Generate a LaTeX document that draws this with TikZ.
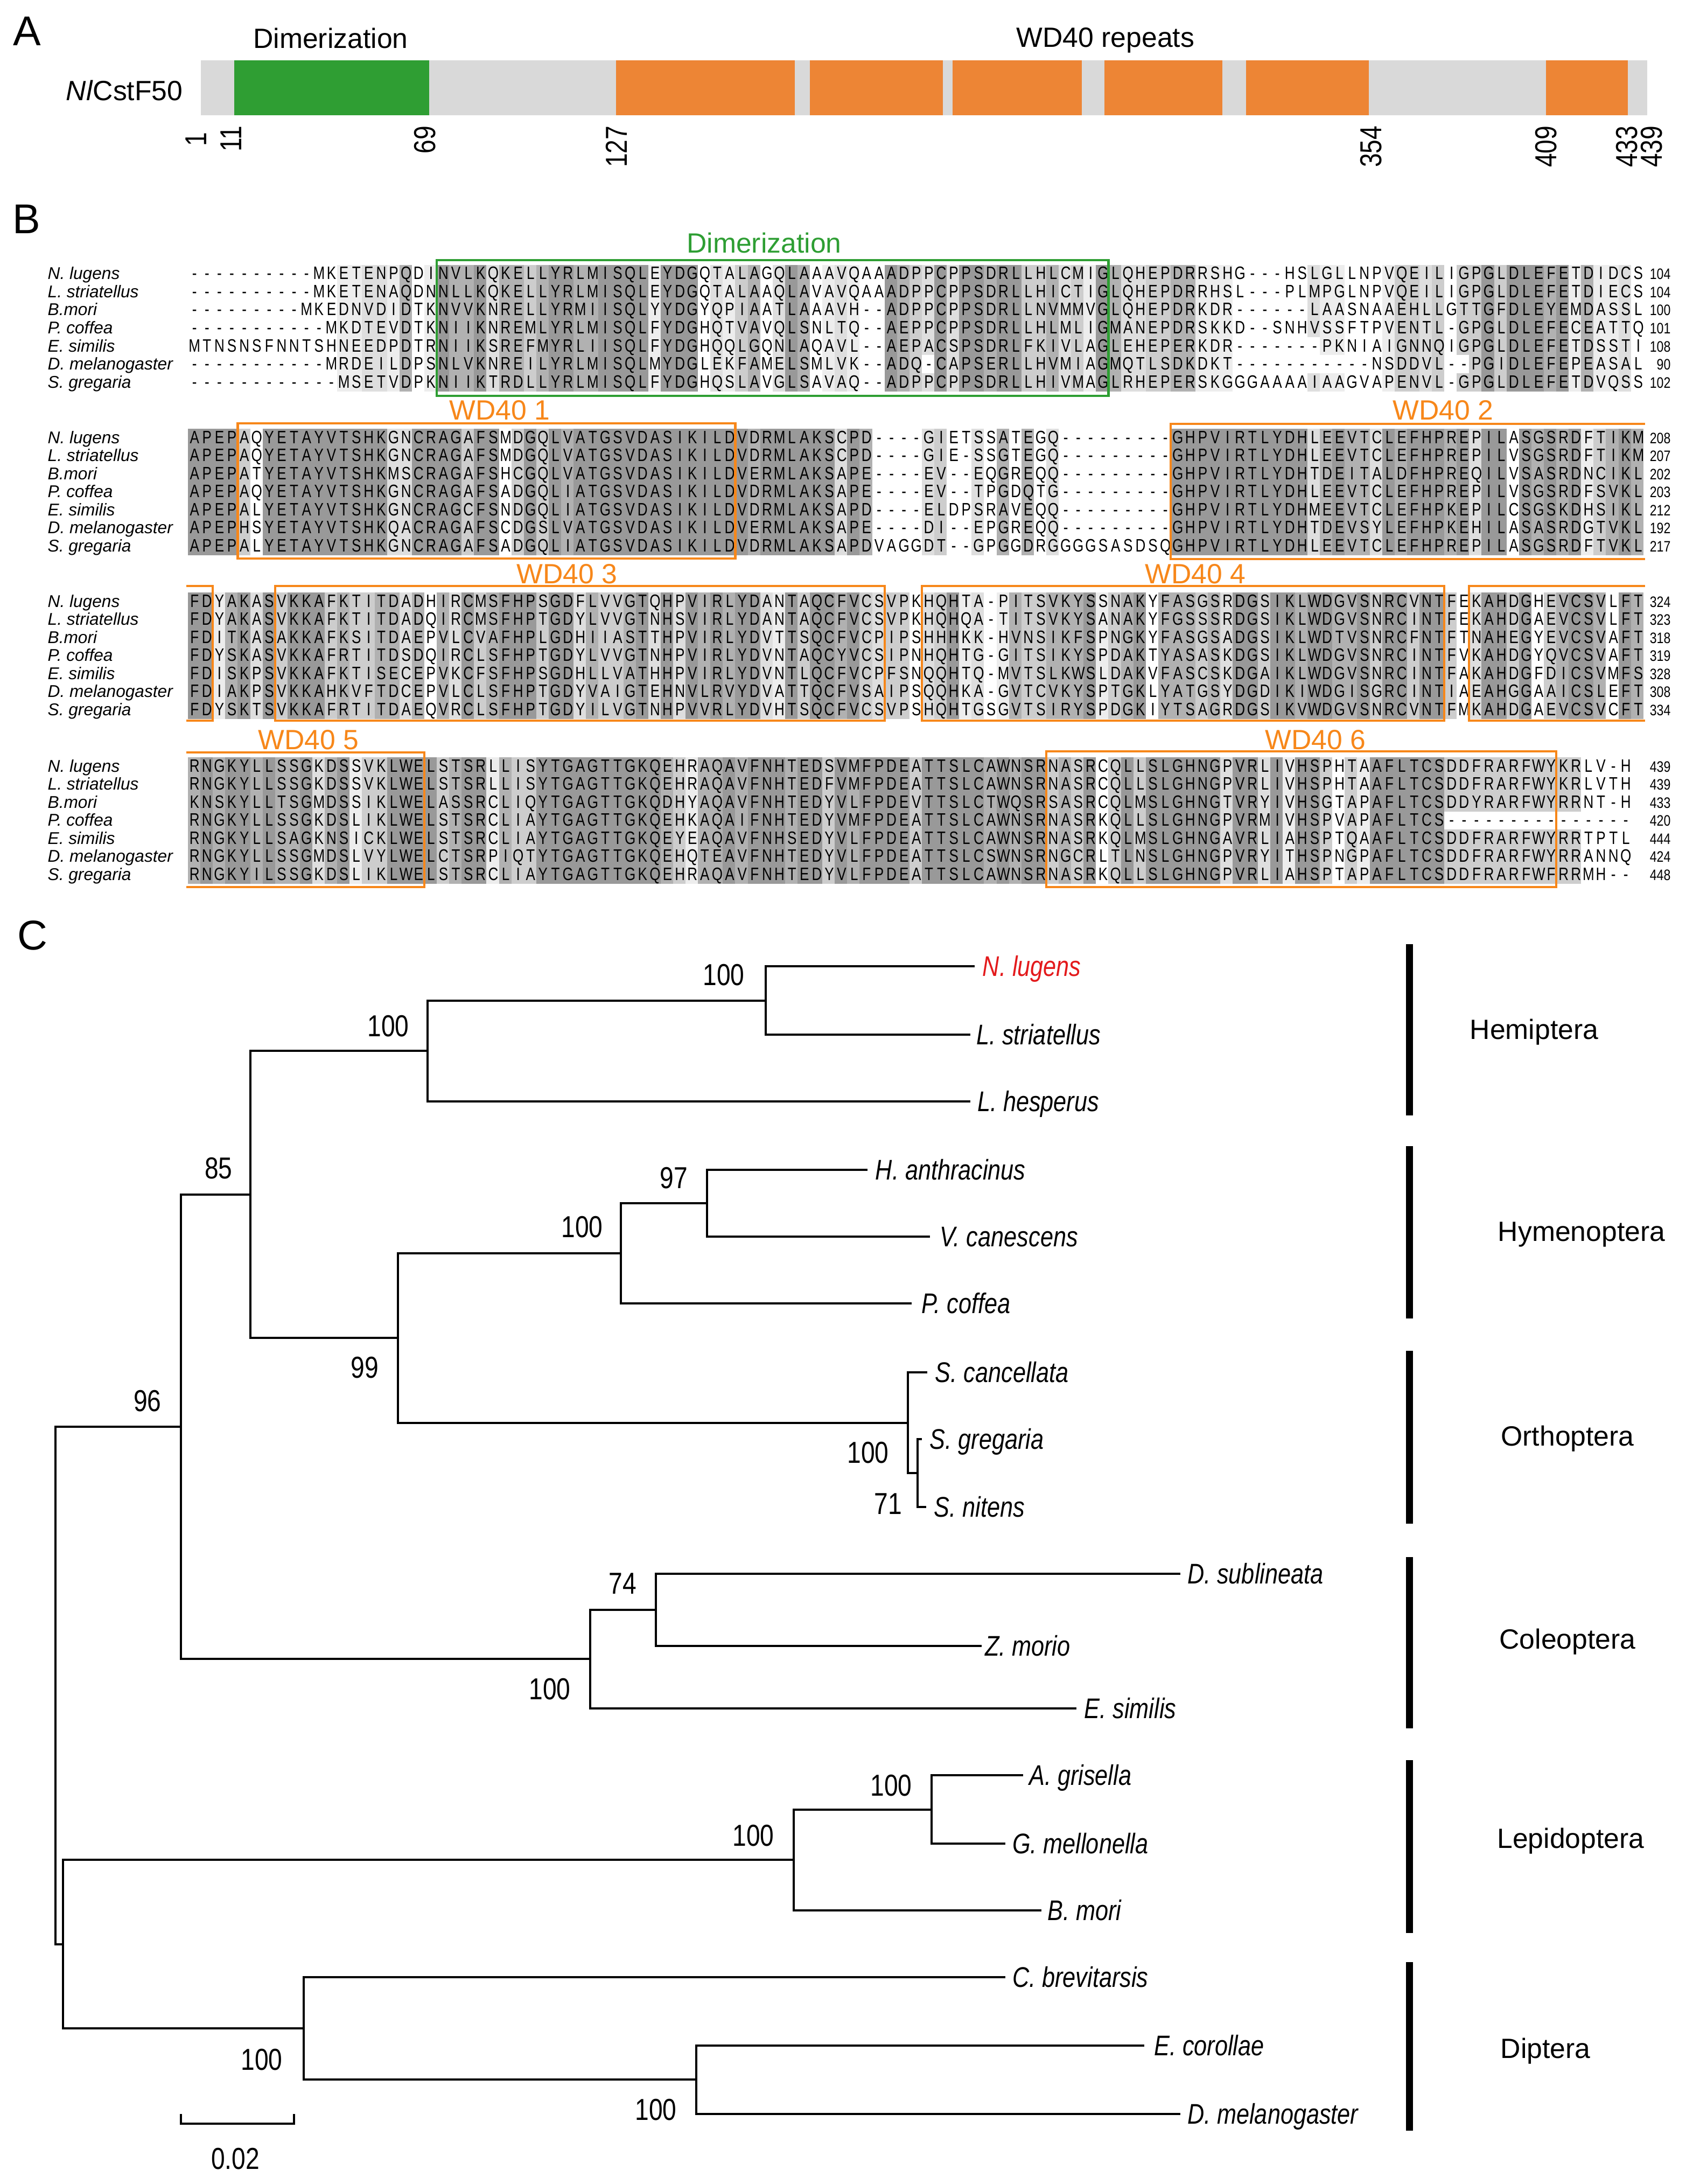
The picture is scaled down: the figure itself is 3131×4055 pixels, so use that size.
\documentclass[tikz,border=0pt]{standalone}
\usepackage{fontspec}
\usepackage{tikz}
\usetikzlibrary{positioning}
\setmainfont{Liberation Sans}
\newfontfamily\narrowfont[FakeStretch=0.82]{Liberation Sans}
\newfontfamily\seqfont[FakeStretch=0.78]{Liberation Sans}

\definecolor{domgreen}{HTML}{2F9E33}
\definecolor{domorange}{HTML}{ED8535}
\definecolor{boxgreen}{HTML}{2E9E33}
\definecolor{boxorange}{HTML}{F7871A}
\definecolor{bargray}{HTML}{D9D9D9}
\definecolor{leafred}{HTML}{E31A1C}
\definecolor{shade1}{HTML}{999999}
\definecolor{shade2}{HTML}{B1B1B1}
\definecolor{shade3}{HTML}{CDCDCD}
\definecolor{shade4}{HTML}{DEDEDE}
\definecolor{shade5}{HTML}{EDEDED}

\tikzset{
  seqrow/.style={anchor=base west, inner sep=0pt, font=\seqfont\fontsize{9.5}{11}\selectfont},
  seqnum/.style={anchor=base east, inner sep=0pt, font=\narrowfont\fontsize{8}{10}\selectfont},
  seqname/.style={anchor=base west, inner sep=0pt, font=\itshape\fontsize{9}{11}\selectfont},
  domlabel/.style={anchor=base, inner sep=0pt, font=\fontsize{14.7}{17}\selectfont},
  resnum/.style={rotate=90, anchor=east, inner sep=0pt, font=\narrowfont\fontsize{16}{19}\selectfont},
  panel/.style={anchor=base, inner sep=0pt, font=\fontsize{22}{26}\selectfont},
  greenbox/.style={draw=boxgreen, line width=1.2pt},
  orangebox/.style={draw=boxorange, line width=1.2pt},
  branch/.style={line width=1.2pt},
  leaf/.style={anchor=west, inner sep=0pt, text height=10.7pt, text depth=0pt, font=\narrowfont\itshape\fontsize{15}{18}\selectfont},
  boot/.style={inner sep=0pt, font=\narrowfont\fontsize{16}{19}\selectfont},
  order/.style={inner sep=0pt, text height=10.5pt, text depth=0pt, font=\fontsize{14.7}{17}\selectfont},
  orderbar/.style={line width=3.7pt},
}

% alignment grid
\newcommand\alncw{23.1}
\newcommand\alnxo{349}
\newcommand\alnpitch{33.5}
\def\alny{0}
\newcommand\alncell[3]{\fill[shade#3] ({\alnxo+(#1-1)*\alncw},{\alny+(#2-1)*\alnpitch-16}) rectangle +(\alncw,\alnpitch);}
\newcommand\alntext[2]{\node[seqrow] (s\alny-#1) at (\alnxo,{\alny+(#1-1)*\alnpitch+11}) {\alnstr{#2}};}
\newcommand\alnnum[2]{\node[seqnum] (n\alny-#1) at (3103,{\alny+(#1-1)*\alnpitch+11}) {#2};}
\newcommand\alnname[2]{\node[seqname] (m\alny-#1) at (88,{\alny+(#1-1)*\alnpitch+11}) {#2};}
\newcommand\alnnames{%
  \alnname{1}{N. lugens}\alnname{2}{L. striatellus}\alnname{3}{B.mori}%
  \alnname{4}{P. coffea}\alnname{5}{E. similis}\alnname{6}{D. melanogaster}%
  \alnname{7}{S. gregaria}}

\ExplSyntaxOn
\seq_new:N \l__aln_rows_seq
\seq_new:N \l__aln_nums_seq
\int_new:N \l__aln_len_int
\int_new:N \l__aln_id_int
\int_new:N \l__aln_sim_int
\int_new:N \l__aln_cnt_int
\int_new:N \l__aln_scnt_int
\int_new:N \l__aln_lev_int
\tl_const:Nn \c__aln_gap_tl { - }
\int_step_inline:nn { 7 }
  {
    \str_new:c { l__aln_r #1 _str }
    \tl_new:c { l__aln_c #1 _tl }
    \tl_new:c { l__aln_g #1 _tl }
  }
\cs_new:Npn \__aln_grp:n #1
  {
    \str_case:nnF {#1}
      {
        {I}{a} {L}{a} {V}{a} {M}{a}
        {F}{b} {Y}{b} {W}{b}
        {K}{c} {R}{c} {H}{c}
        {D}{d} {E}{d} {N}{d} {Q}{d}
        {S}{e} {T}{e} {A}{e} {G}{e}
        {C}{f} {P}{h}
      }
      {z}
  }
\cs_generate_variant:Nn \__aln_grp:n { v }
\cs_generate_variant:Nn \str_item:Nn { c }
\cs_generate_variant:Nn \str_count:N { c }
\cs_new_protected:Npn \alnstr #1
  { \str_map_inline:nn {#1} { \makebox[0.231cm][c]{##1} } }
\cs_new_protected:Npn \__aln_column:n #1
  {
    \int_step_inline:nn { 7 }
      {
        \tl_set:cx { l__aln_c ##1 _tl } { \str_item:cn { l__aln_r ##1 _str } {#1} }
        \tl_set:cx { l__aln_g ##1 _tl } { \__aln_grp:v { l__aln_c ##1 _tl } }
      }
    \int_zero:N \l__aln_id_int
    \int_zero:N \l__aln_sim_int
    \int_step_inline:nn { 7 }
      {
        \tl_if_eq:cNF { l__aln_c ##1 _tl } \c__aln_gap_tl
          {
            \int_zero:N \l__aln_cnt_int
            \int_zero:N \l__aln_scnt_int
            \int_step_inline:nn { 7 }
              {
                \tl_if_eq:ccT { l__aln_c ##1 _tl } { l__aln_c ####1 _tl }
                  { \int_incr:N \l__aln_cnt_int }
                \tl_if_eq:ccT { l__aln_g ##1 _tl } { l__aln_g ####1 _tl }
                  { \int_incr:N \l__aln_scnt_int }
              }
            \int_set:Nn \l__aln_id_int { \int_max:nn { \l__aln_id_int } { \l__aln_cnt_int } }
            \int_set:Nn \l__aln_sim_int { \int_max:nn { \l__aln_sim_int } { \l__aln_scnt_int } }
          }
      }
    \int_set:Nn \l__aln_lev_int
      {
        \int_compare:nNnTF { \l__aln_id_int } = { 7 } { 1 }
          {
            \int_compare:nNnTF { \l__aln_sim_int } > { 3 }
              { 9 - \l__aln_sim_int } { 0 }
          }
      }
    \int_compare:nNnT { \l__aln_lev_int } > { 0 }
      {
        \int_step_inline:nn { 7 }
          {
            \tl_if_eq:cNF { l__aln_c ##1 _tl } \c__aln_gap_tl
              { \use:x { \exp_not:N \alncell {#1} {##1} { \int_use:N \l__aln_lev_int } } }
          }
      }
  }
\NewDocumentCommand \alnblock { m m m }
  {
    \tl_set:Nn \alny {#1}
    \seq_set_from_clist:Nn \l__aln_rows_seq {#2}
    \seq_set_from_clist:Nn \l__aln_nums_seq {#3}
    \seq_map_indexed_inline:Nn \l__aln_rows_seq
      { \str_set:cn { l__aln_r ##1 _str } {##2} }
    \int_set:Nn \l__aln_len_int { \str_count:c { l__aln_r1_str } }
    \int_step_function:nN { \l__aln_len_int } \__aln_column:n
    \seq_map_indexed_inline:Nn \l__aln_rows_seq { \alntext {##1} {##2} }
    \seq_map_indexed_inline:Nn \l__aln_nums_seq { \alnnum {##1} {##2} }
    \alnnames
  }
\ExplSyntaxOff

\begin{document}
\begin{tikzpicture}[x=0.01cm, y=-0.01cm]
\fill[white] (0,0) rectangle (3131,4055);
\useasboundingbox (0,0) rectangle (3131,4055);

% A: domain map
\node[panel] (pA) at (50,85) {A};
\node[domlabel] (dimA) at (614,90) {Dimerization};
\node[domlabel] (wdA) at (2053,88) {WD40 repeats};
\node[domlabel, anchor=base east] (prot) at (340,187) {\textit{Nl}CstF50};
\fill[bargray] (373,112) rectangle (3059,214);
\fill[domgreen] (435,112) rectangle (797,214);
\fill[domorange] (1144,112) rectangle (1476,214);
\fill[domorange] (1504,112) rectangle (1751,214);
\fill[domorange] (1769,112) rectangle (2009,214);
\fill[domorange] (2051,112) rectangle (2270,214);
\fill[domorange] (2314,112) rectangle (2542,214);
\fill[domorange] (2871,112) rectangle (3023,214);
\node[resnum] (r1) at (364,245) {1};
\node[resnum] (r11) at (429,233) {11};
\node[resnum] (r69) at (789,233) {69};
\node[resnum] (r127) at (1145,233) {127};
\node[resnum] (r354) at (2546,233) {354};
\node[resnum] (r409) at (2871,233) {409};
\node[resnum] (r433) at (3021,233) {433};
\node[resnum] (r439) at (3067,233) {439};

% B: alignment
\node[panel] (pB) at (49,434) {B};
\alnblock{508}{
----------MKETENPQDINVLKQKELLYRLMISQLEYDGQTALAGQLAAAVQAAADPPCPPSDRLLHLCMIGLQHEPDRRSHG---HSLGLLNPVQEILIGPGLDLEFETDIDCS,
----------MKETENAQDNNLLKQKELLYRLMISQLEYDGQTALAAQLAVAVQAAADPPCPPSDRLLHICTIGLQHEPDRRHSL---PLMPGLNPVQEILIGPGLDLEFETDIECS,
---------MKEDNVDIDTKNVVKNRELLYRMIISQLYYDGYQPIAATLAAAVH--ADPPCPPSDRLLNVMMVGLQHEPDRKDR------LAASNAAEHLLGTTGFDLEYEMDASSL,
-----------MKDTEVDTKNIIKNREMLYRLMISQLFYDGHQTVAVQLSNLTQ--AEPPCPPSDRLLHLMLIGMANEPDRSKKD--SNHVSSFTPVENTL-GPGLDLEFECEATTQ,
MTNSNSFNNTSHNEEDPDTRNIIKSREFMYRLIISQLFYDGHQQLGQNLAQAVL--AEPACSPSDRLFKIVLAGLEHEPERKDR-------PKNIAIGNNQIGPGLDLEFETDSSTI,
-----------MRDEILDPSNLVKNREILYRLMISQLMYDGLEKFAMELSMLVK--ADQ-CAPSERLLHVMIAGMQTLSDKDKT-----------NSDDVL--PGIDLEFEPEASAL,
------------MSETVDPKNIIKTRDLLYRLMISQLFYDGHQSLAVGLSAVAQ--ADPPCPPSDRLLHIVMAGLRHEPERSKGGGAAAAIAAGVAPENVL-GPGLDLEFETDVQSS
}{104,104,100,101,108,90,102}
\alnblock{812}{
APEPAQYETAYVTSHKGNCRAGAFSMDGQLVATGSVDASIKILDVDRMLAKSCPD----GIETSSATEGQ---------GHPVIRTLYDHLEEVTCLEFHPREPILASGSRDFTIKM,
APEPAQYETAYVTSHKGNCRAGAFSMDGQLVATGSVDASIKILDVDRMLAKSCPD----GIE-SSGTEGQ---------GHPVIRTLYDHLEEVTCLEFHPREPILVSGSRDFTIKM,
APEPATYETAYVTSHKMSCRAGAFSHCGQLVATGSVDASIKILDVERMLAKSAPE----EV--EQGREQQ---------GHPVIRTLYDHTDEITALDFHPREQILVSASRDNCIKL,
APEPAQYETAYVTSHKGNCRAGAFSADGQLIATGSVDASIKILDVDRMLAKSAPE----EV--TPGDQTG---------GHPVIRTLYDHLEEVTCLEFHPREPILVSGSRDFSVKL,
APEPALYETAYVTSHKGNCRAGCFSNDGQLIATGSVDASIKILDVDRMLAKSAPD----ELDPSRAVEQQ---------GHPVIRTLYDHMEEVTCLEFHPKEPILCSGSKDHSIKL,
APEPHSYETAYVTSHKQACRAGAFSCDGSLVATGSVDASIKILDVERMLAKSAPE----DI--EPGREQQ---------GHPVIRTLYDHTDEVSYLEFHPKEHILASASRDGTVKL,
APEPALYETAYVTSHKGNCRAGAFSADGQLIATGSVDASIKILDVDRMLAKSAPDVAGGDT--GPGGDRGGGGSASDSQGHPVIRTLYDHLEEVTCLEFHPREPILASGSRDFTVKL
}{208,207,202,203,212,192,217}
\alnblock{1116}{
FDYAKASVKKAFKTITDADHIRCMSFHPSGDFLVVGTQHPVIRLYDANTAQCFVCSVPKHQHTA-PITSVKYSSNAKYFASGSRDGSIKLWDGVSNRCVNTFEKAHDGHEVCSVLFT,
FDYAKASVKKAFKTITDADQIRCMSFHPTGDYLVVGTNHSVIRLYDANTAQCFVCSVPKHQHQA-TITSVKYSANAKYFGSSSRDGSIKLWDGVSNRCINTFEKAHDGAEVCSVLFT,
FDITKASAKKAFKSITDAEPVLCVAFHPLGDHIIASTTHPVIRLYDVTTSQCFVCPIPSHHHKK-HVNSIKFSPNGKYFASGSADGSIKLWDTVSNRCFNTFTNAHEGYEVCSVAFT,
FDYSKASVKKAFRTITDSDQIRCLSFHPTGDYLVVGTNHPVIRLYDVNTAQCYVCSIPNHQHTG-GITSIKYSPDAKTYASASKDGSIKLWDGVSNRCINTFVKAHDGYQVCSVAFT,
FDISKPSVKKAFKTISECEPVKCFSFHPSGDHLLVATHHPVIRLYDVNTLQCFVCPFSNQQHTQ-MVTSLKWSLDAKVFASCSKDGAIKLWDGVSNRCINTFAKAHDGFDICSVMFS,
FDIAKPSVKKAHKVFTDCEPVLCLSFHPTGDYVAIGTEHNVLRVYDVATTQCFVSAIPSQQHKA-GVTCVKYSPTGKLYATGSYDGDIKIWDGISGRCINTIAEAHGGAAICSLEFT,
FDYSKTSVKKAFRTITDAEQVRCLSFHPTGDYILVGTNHPVVRLYDVHTSQCFVCSVPSHQHTGSGVTSIRYSPDGKIYTSAGRDGSIKVWDGVSNRCVNTFMKAHDGAEVCSVCFT
}{324,323,318,319,328,308,334}
\alnblock{1422}{
RNGKYLLSSGKDSSVKLWELSTSRLLISYTGAGTTGKQEHRAQAVFNHTEDSVMFPDEATTSLCAWNSRNASRCQLLSLGHNGPVRLIVHSPHTAAFLTCSDDFRARFWYKRLV-H,
RNGKYLLSSGKDSSVKLWELSTSRLLISYTGAGTTGKQEHRAQAVFNHTEDFVMFPDEATTSLCAWNSRNASRCQLLSLGHNGPVRLIVHSPHTAAFLTCSDDFRARFWYKRLVTH,
KNSKYLLTSGMDSSIKLWELASSRCLIQYTGAGTTGKQDHYAQAVFNHTEDYVLFPDEVTTSLCTWQSRSASRCQLMSLGHNGTVRYIVHSGTAPAFLTCSDDYRARFWYRRNT-H,
RNGKYLLSSGKDSLIKLWELSTSRCLIAYTGAGTTGKQEHKAQAIFNHTEDYVMFPDEATTSLCAWNSRNASRKQLLSLGHNGPVRMIVHSPVAPAFLTCS---------------,
RNGKYLLSAGKNSICKLWELSTSRCLIAYTGAGTTGKQEYEAQAVFNHSEDYVLFPDEATTSLCAWNSRNASRKQLMSLGHNGAVRLIAHSPTQAAFLTCSDDFRARFWYRRTPTL,
RNGKYLLSSGMDSLVYLWELCTSRPIQTYTGAGTTGKQEHQTEAVFNHTEDYVLFPDEATTSLCSWNSRNGCRLTLNSLGHNGPVRYITHSPNGPAFLTCSDDFRARFWYRRANNQ,
RNGKYILSSGKDSLIKLWELSTSRCLIAYTGAGTTGKQEHRAQAVFNHTEDYVLFPDEATTSLCAWNSRNASRKQLLSLGHNGPVRLIAHSPTAPAFLTCSDDFRARFWFRRMH--
}{439,439,433,420,444,424,448}

% domain boxes on the alignment
\draw[greenbox] ({\alnxo+20*\alncw},483) rectangle ({\alnxo+74*\alncw},735);
\node[domlabel, text=boxgreen] (dimB) at (1419,470) {Dimerization};
\draw[orangebox] ({\alnxo+4*\alncw},786) rectangle ({\alnxo+44*\alncw},1037);
\node[domlabel, text=boxorange] (wd1) at (928,779) {WD40 1};
\draw[orangebox] (3055,787) -- ({\alnxo+79*\alncw},787) -- ({\alnxo+79*\alncw},1038) -- (3055,1038);
\node[domlabel, text=boxorange] (wd2) at (2680,779) {WD40 2};
\draw[orangebox] (346,1088) -- ({\alnxo+2*\alncw},1088) -- ({\alnxo+2*\alncw},1338) -- (346,1338);
\draw[orangebox] ({\alnxo+7*\alncw},1088) rectangle ({\alnxo+56*\alncw},1338);
\node[domlabel, text=boxorange] (wd3) at (1053,1083) {WD40 3};
\draw[orangebox] ({\alnxo+59*\alncw},1088) rectangle ({\alnxo+101*\alncw},1338);
\node[domlabel, text=boxorange] (wd4) at (2220,1083) {WD40 4};
\draw[orangebox] (3055,1088) -- ({\alnxo+103*\alncw},1088) -- ({\alnxo+103*\alncw},1338) -- (3055,1338);
\draw[orangebox] (346,1397) -- ({\alnxo+19*\alncw},1397) -- ({\alnxo+19*\alncw},1647) -- (346,1647);
\node[domlabel, text=boxorange] (wd5) at (573,1391) {WD40 5};
\draw[orangebox] ({\alnxo+69*\alncw},1395) rectangle ({\alnxo+110*\alncw},1647);
\node[domlabel, text=boxorange] (wd6) at (2443,1391) {WD40 6};

% C: tree
\node[panel] (pC) at (60,1763) {C};
\coordinate (lNlug) at (1810,1794);
\coordinate (lLstr) at (1802,1921);
\coordinate (lLhes) at (1802,2045);
\coordinate (lHant) at (1611,2172);
\coordinate (lVcan) at (1727,2296);
\coordinate (lPcof) at (1693,2420);
\coordinate (lScan) at (1722,2548);
\coordinate (lSgre) at (1712,2672);
\coordinate (lSnit) at (1720,2798);
\coordinate (lDsub) at (2192,2922);
\coordinate (lZmor) at (1823,3056);
\coordinate (lEsim) at (1999,3172);
\coordinate (lAgri) at (1900,3296);
\coordinate (lGmel) at (1867,3423);
\coordinate (lBmor) at (1934,3547);
\coordinate (lCbre) at (1867,3671);
\coordinate (lEcor) at (2125,3798);
\coordinate (lDmel) at (2192,3925);

\coordinate (nNL) at (1422,1858);
\coordinate (nHem) at (794,1951);
\coordinate (nHV) at (1313,2234);
\coordinate (nHym) at (1153,2327);
\coordinate (nSgn) at (1704,2735);
\coordinate (nOrt) at (1686,2642);
\coordinate (nHO) at (739,2484);
\coordinate (nA) at (465,2218);
\coordinate (nDZ) at (1218,2989);
\coordinate (nCol) at (1096,3080);
\coordinate (nB) at (336,2649);
\coordinate (nAG) at (1730,3360);
\coordinate (nLep) at (1474,3453);
\coordinate (nED) at (1293,3861);
\coordinate (nDip) at (564,3766);
\coordinate (nLD) at (117,3610);
\coordinate (root) at (103,3130);

\draw[branch] (lNlug) -| (nNL) |- (lLstr);
\draw[branch] (nNL) -| (nHem) |- (lLhes);
\draw[branch] (lHant) -| (nHV) |- (lVcan);
\draw[branch] (nHV) -| (nHym) |- (lPcof);
\draw[branch] (lSgre) -| (nSgn) |- (lSnit);
\draw[branch] (lScan) -| (nOrt) |- (nSgn);
\draw[branch] (nHym) -| (nHO) |- (nOrt);
\draw[branch] (nHem) -| (nA) |- (nHO);
\draw[branch] (lDsub) -| (nDZ) |- (lZmor);
\draw[branch] (nDZ) -| (nCol) |- (lEsim);
\draw[branch] (nA) -| (nB) |- (nCol);
\draw[branch] (lAgri) -| (nAG) |- (lGmel);
\draw[branch] (nAG) -| (nLep) |- (lBmor);
\draw[branch] (lEcor) -| (nED) |- (lDmel);
\draw[branch] (lCbre) -| (nDip) |- (nED);
\draw[branch] (nLep) -| (nLD) |- (nDip);
\draw[branch] (nB) -| (root) |- (nLD);

\node[leaf, right=4pt of lNlug, text=leafred] (tNlug) {N. lugens};
\node[leaf, right=3pt of lLstr] (tLstr) {L. striatellus};
\node[leaf, right=3.5pt of lLhes] (tLhes) {L. hesperus};
\node[leaf, right=4pt of lHant] (tHant) {H. anthracinus};
\node[leaf, right=5pt of lVcan] (tVcan) {V. canescens};
\node[leaf, right=5pt of lPcof] (tPcof) {P. coffea};
\node[leaf, right=4pt of lScan] (tScan) {S. cancellata};
\node[leaf, right=4pt of lSgre] (tSgre) {S. gregaria};
\node[leaf, right=4pt of lSnit] (tSnit) {S. nitens};
\node[leaf, right=3.5pt of lDsub] (tDsub) {D. sublineata};
\node[leaf, right=1.5pt of lZmor] (tZmor) {Z. morio};
\node[leaf, right=4pt of lEsim] (tEsim) {E. similis};
\node[leaf, right=3pt of lAgri] (tAgri) {A. grisella};
\node[leaf, right=3.5pt of lGmel] (tGmel) {G. mellonella};
\node[leaf, right=3pt of lBmor] (tBmor) {B. mori};
\node[leaf, right=3.5pt of lCbre] (tCbre) {C. brevitarsis};
\node[leaf, right=5pt of lEcor] (tEcor) {E. corollae};
\node[leaf, right=3.5pt of lDmel] (tDmel) {D. melanogaster};

\node[boot] at (1344,1810) (bNL) {100};
\node[boot] at (721,1905) (bHem) {100};
\node[boot] at (1251,2187) (bHV) {97};
\node[boot] at (1081,2278) (bHym) {100};
\node[boot] at (677,2539) (bHO) {99};
\node[boot] at (406,2169) (bA) {85};
\node[boot] at (1612,2697) (bOrt) {100};
\node[boot] at (1649,2792) (bSgn) {71};
\node[boot] at (1156,2940) (bDZ) {74};
\node[boot] at (1021,3136) (bCol) {100};
\node[boot] at (274,2601) (bB) {96};
\node[boot] at (1655,3315) (bAG) {100};
\node[boot] at (1399,3408) (bLep) {100};
\node[boot] at (486,3824) (bDip) {100};
\node[boot] at (1218,3917) (bED) {100};

% order bars
\draw[orderbar] (2617,1753) -- (2617,2071);
\draw[orderbar] (2617,2128) -- (2617,2448);
\draw[orderbar] (2617,2508) -- (2617,2829);
\draw[orderbar] (2617,2891) -- (2617,3209);
\draw[orderbar] (2617,3268) -- (2617,3589);
\draw[orderbar] (2617,3643) -- (2617,3956);
\node[order] at (2849,1911) (oHem) {Hemiptera};
\node[order] at (2937,2286) (oHym) {Hymenoptera};
\node[order] at (2911,2666) (oOrt) {Orthoptera};
\node[order] at (2911,3043) (oCol) {Coleoptera};
\node[order] at (2917,3413) (oLep) {Lepidoptera};
\node[order] at (2870,3803) (oDip) {Diptera};

% scale bar
\coordinate (sbL) at (336,3943);
\coordinate (sbR) at (546,3943);
\draw[branch] ([yshift=5pt]sbL) -- (sbL) -- (sbR) -- ([yshift=5pt]sbR);
\node[boot] at (437,4008) (sbT) {0.02};
\end{tikzpicture}
\end{document}
